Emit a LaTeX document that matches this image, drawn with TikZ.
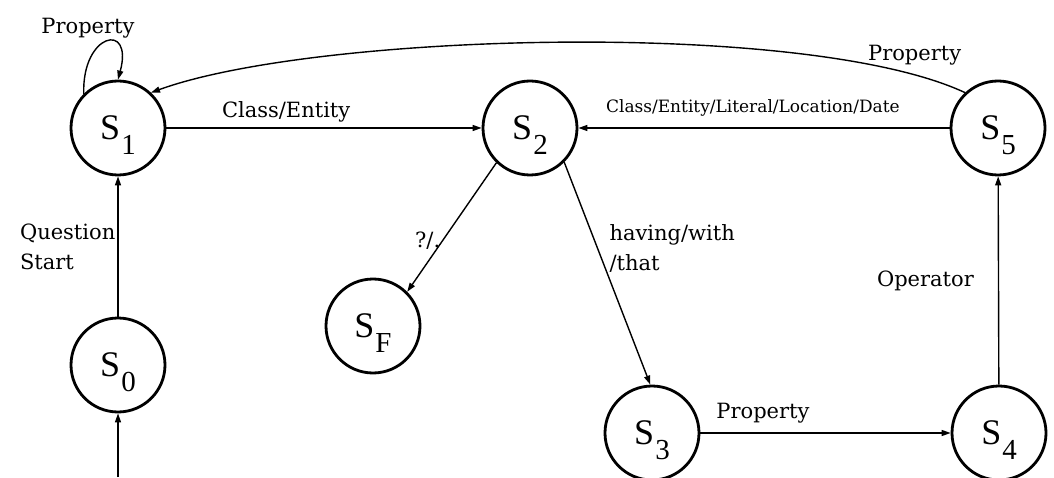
\documentclass[tikz,border=0pt]{standalone}
\usepackage{fontspec}
\setmainfont{DejaVu Serif}
\newfontfamily\statefont{Liberation Serif}
\usetikzlibrary{arrows.meta}

% state name: big S with a lowered index that takes no room
\newcommand{\stname}[1]{{\statefont\fontsize{36}{36}\selectfont S\kern1pt\raisebox{-15pt}[0pt][0pt]{\fontsize{29}{29}\selectfont #1}}}

\begin{document}
\begin{tikzpicture}[x=1pt,y=1pt,
    >={Triangle[length=9pt,width=6pt]},
    state/.style={circle,draw,line width=2.8pt,minimum size=94pt,inner sep=0pt},
    trans/.style={->,line width=1.4pt},
    lbl/.style={font=\fontsize{21}{30}\selectfont,inner sep=2pt},
    smalllbl/.style={font=\fontsize{17}{20}\selectfont,inner sep=2pt}]
\useasboundingbox (0,0) rectangle (1054,477);

% states
\node[state] (s0) at (118,112) {\stname{0}};
\node[state] (s1) at (118,349) {\stname{1}};
\node[state] (s2) at (530,349) {\stname{2}};
\node[state] (sf) at (373,151) {\stname{F}};
\node[state] (s3) at (652,44) {\stname{3}};
\node[state] (s4) at (999,44) {\stname{4}};
\node[state] (s5) at (998,349) {\stname{5}};
\coordinate (start) at (118,0);

% transitions
\draw[trans] (start) -- (s0);
\draw[trans] (s0) -- node[lbl,left,align=left]{Question\\Start} (s1);
\draw[trans] (s1.135) to[out=92,in=75,looseness=4.2]
    node[lbl,above,xshift=-18pt,yshift=1pt]{Property} (s1.90);
\draw[trans] (s1) -- node[lbl,above,pos=0.38,yshift=3pt]{Class/Entity} (s2);
\draw[trans] (s5) -- node[smalllbl,above,pos=0.53,yshift=9pt]{Class/Entity/Literal/Location/Date} (s2);
\draw[trans] (s5.133) to[out=155,in=20,looseness=0.55]
    node[lbl,above,pos=0.09,yshift=7pt]{Property} (s1.47);
\draw[trans] (s2.226) -- node[lbl,left,pos=0.6]{?/.} (sf.45);
\draw[trans] (s2.-45) -- node[lbl,right,align=left,pos=0.39,xshift=9pt]{having/with\\/that} (s3.92);
\draw[trans] (s3) -- node[lbl,above,pos=0.25,yshift=7pt]{Property} (s4);
\draw[trans] (s4) -- node[lbl,left=22pt]{Operator} (s5);
\end{tikzpicture}
\end{document}
